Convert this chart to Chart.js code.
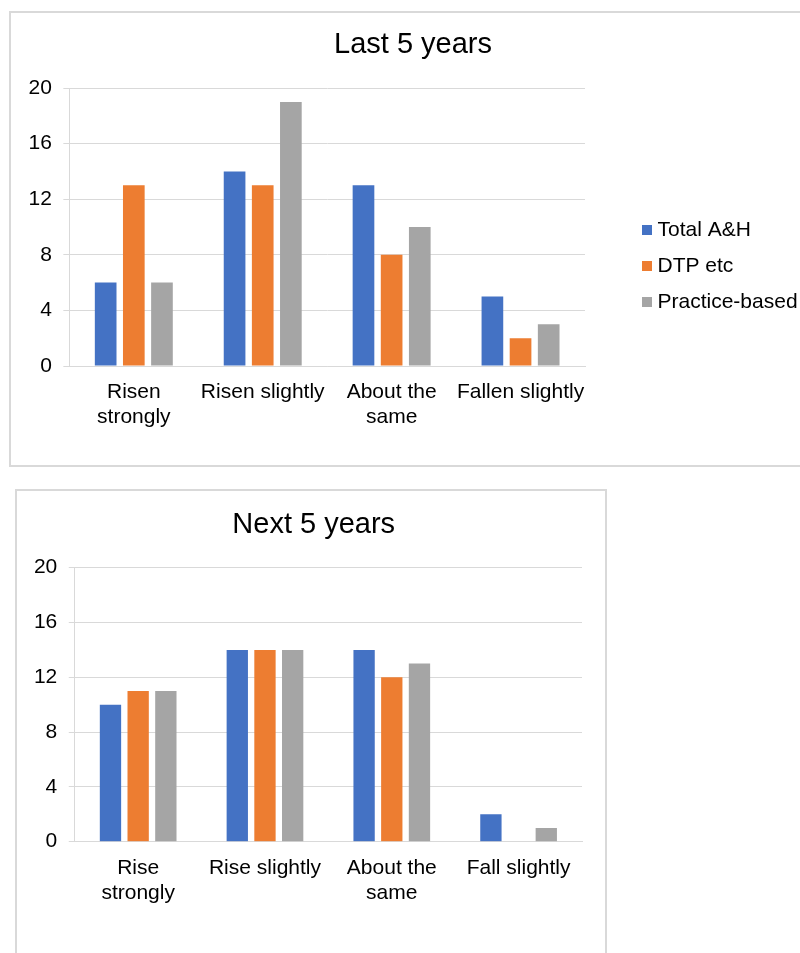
<!DOCTYPE html>
<html>
<head>
<meta charset="utf-8">
<script src="https://cdn.jsdelivr.net/npm/chart.js@4.4.1/dist/chart.umd.min.js"></script>
<style>
  html, body { margin: 0; padding: 0; background: #fff; overflow: hidden; width: 800px; height: 953px; }
  .panel { position: absolute; border: 2px solid #d9d9d9; background: #fff; }
  #p1 { left: 9px; top: 11px; width: 798px; height: 452px; }
  #p2 { left: 15px; top: 489px; width: 588px; height: 462px; }
  canvas { display: block; }
</style>
</head>
<body>
<div class="panel" id="p1"><canvas id="c1" width="798" height="452"></canvas></div>
<div class="panel" id="p2"><canvas id="c2" width="588" height="462"></canvas></div>
<script>
// Survey responses: change over the last 5 years and expectation for the next 5
const seriesNames = ['Total A&H', 'DTP etc', 'Practice-based'];
const seriesColors = ['#4472C4', '#ED7D31', '#A5A5A5'];

const lastCategories = [['Risen', 'strongly'], 'Risen slightly', ['About the', 'same'], 'Fallen slightly'];
const lastTotal = [6, 14, 13, 5];
const lastDtp = [13, 13, 8, 2];
const lastPractice = [6, 19, 10, 3];

const nextCategories = [['Rise', 'strongly'], 'Rise slightly', ['About the', 'same'], 'Fall slightly'];
const nextTotal = [10, 14, 14, 2];
const nextDtp = [11, 14, 12, 0];
const nextPractice = [11, 14, 13, 1];

const yMin = 0, yMax = 20, yStep = 4;

const FONT = "'Liberation Sans', Arial, sans-serif";
const GRID = '#d9d9d9';
const TEXT = '#000000';

function buildData(categories, values) {
  return {
    labels: categories,
    datasets: values.map((v, i) => ({
      label: seriesNames[i],
      data: v,
      backgroundColor: seriesColors[i],
      borderWidth: 0,
      categoryPercentage: 0.655,
      barPercentage: 0.77
    }))
  };
}

// Legend drawn as a vertical list to the right of the plot area
const sideLegend = {
  id: 'sideLegend',
  afterDraw(chart, args, opts) {
    if (!opts || !opts.show) return;
    const { ctx, chartArea } = chart;
    const ds = chart.data.datasets;
    const x = chartArea.right + opts.gap;
    const y0 = (chartArea.top + chartArea.bottom) / 2 + opts.shift - (ds.length - 1) / 2 * opts.spacing;
    ctx.save();
    ctx.font = '21px ' + FONT;
    ctx.textBaseline = 'middle';
    ctx.textAlign = 'left';
    ds.forEach((d, i) => {
      const y = y0 + i * opts.spacing;
      ctx.fillStyle = d.backgroundColor;
      ctx.fillRect(x, y - 5, 10, 10);
      ctx.fillStyle = TEXT;
      ctx.fillText(d.label, x + 15.5, y);
    });
    ctx.restore();
  }
};

function buildOptions(titleText, layoutPad, titlePad, rightSpace, legendOpts) {
  return {
    responsive: false,
    animation: false,
    events: [],
    layout: { padding: layoutPad },
    plugins: {
      title: {
        display: true,
        text: titleText,
        color: TEXT,
        font: { family: FONT, size: 29, weight: 'normal' },
        padding: titlePad
      },
      legend: { display: false },
      tooltip: { enabled: false },
      sideLegend: legendOpts
    },
    scales: {
      x: {
        grid: { display: false, drawTicks: false, tickLength: 0 },
        border: { display: true, color: GRID, width: 1 },
        ticks: {
          color: TEXT,
          font: { family: FONT, size: 21 },
          padding: 13.5,
          maxRotation: 0,
          autoSkip: false
        }
      },
      y: {
        min: yMin,
        max: yMax,
        ticks: {
          stepSize: yStep,
          color: TEXT,
          font: { family: FONT, size: 21 },
          padding: 11.5
        },
        grid: { color: GRID, lineWidth: 1, tickLength: 6 },
        border: { display: true, color: GRID, width: 1 }
      },
      // empty right-hand band keeping the plot clear of the legend column
      side: {
        type: 'linear',
        position: 'right',
        display: true,
        grid: { display: false, drawTicks: false },
        border: { display: false },
        ticks: { display: false },
        afterFit(scale) { scale.width = rightSpace; }
      }
    }
  };
}

new Chart(document.getElementById('c1'), {
  type: 'bar',
  data: buildData(lastCategories, [lastTotal, lastDtp, lastPractice]),
  options: buildOptions('Last 5 years',
    { top: 0, left: 6, right: 0, bottom: 21.6 },
    { top: 15, bottom: 25.2 },
    224,
    { show: true, gap: 57, shift: 39, spacing: 36 }),
  plugins: [sideLegend]
});

new Chart(document.getElementById('c2'), {
  type: 'bar',
  data: buildData(nextCategories, [nextTotal, nextDtp, nextPractice]),
  options: buildOptions('Next 5 years',
    { top: 0, left: 5.4, right: 0, bottom: 33.9 },
    { top: 16.1, bottom: 25.8 },
    23,
    { show: false }),
  plugins: [sideLegend]
});
</script>
</body>
</html>
